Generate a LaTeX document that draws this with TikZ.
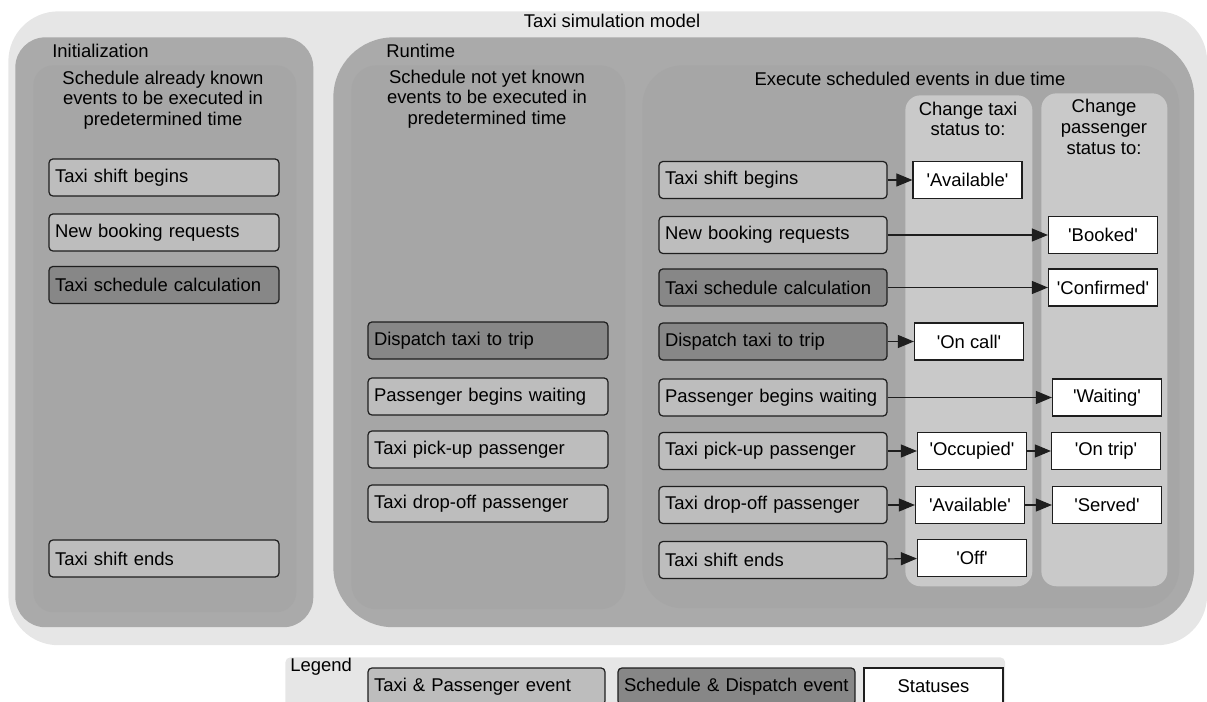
\documentclass[tikz,border=0pt]{standalone}
\usepackage{fontspec}
\setmainfont{Liberation Sans}
\usepackage{xcolor}
\usetikzlibrary{arrows.meta}
\definecolor{simbg}{HTML}{E6E6E6}
\definecolor{phasegray}{HTML}{AAAAAA}
\definecolor{innergray}{HTML}{A6A6A6}
\definecolor{colgray}{HTML}{C9C9C9}
\definecolor{evlight}{HTML}{BDBDBD}
\definecolor{evdark}{HTML}{878787}
\definecolor{edgegray}{HTML}{1E1E1E}
\newcommand{\diafont}{\fontsize{10.5pt}{11.8pt}\selectfont}
\newcommand{\sq}[1]{\textquotesingle#1\textquotesingle}

\begin{document}
\begin{tikzpicture}[
    x=0.02cm, y=-0.02cm,
    font=\diafont,
    area/.style={rectangle, anchor=north west, inner sep=0pt},
    title/.style={inner sep=0pt, align=center},
    evt/.style={
        rectangle, draw=edgegray, line width=0.7pt, rounded corners=2.2pt,
        fill=evlight, minimum height=0.74cm, inner xsep=0.12cm, inner ysep=0pt,
        align=left, text width=4.32cm
    },
    evd/.style={evt, fill=evdark},
    stat/.style={
        rectangle, draw=edgegray, line width=0.7pt, fill=white,
        minimum width=2.18cm, minimum height=0.74cm, inner sep=0pt
    },
    arrow/.style={-{Triangle[length=0.32cm, width=0.26cm]}, line width=0.6pt, edgegray}
]
\clip (0,0) rectangle (1207,702);

% containers
\node[area, fill=simbg, rounded corners=1cm, minimum width=23.98cm, minimum height=12.68cm] (model) at (8,11) {};
\node[area, fill=phasegray, rounded corners=0.6cm, minimum width=5.96cm, minimum height=11.8cm] (init) at (15,37) {};
\node[area, fill=phasegray, rounded corners=1.2cm, minimum width=17.22cm, minimum height=11.8cm] (run) at (333,37) {};
\node[area, fill=innergray, rounded corners=0.4cm, minimum width=5.26cm, minimum height=10.94cm] (initin) at (33,65) {};
\node[area, fill=innergray, rounded corners=0.5cm, minimum width=5.48cm, minimum height=10.88cm] (runin) at (351,65) {};
\node[area, fill=innergray, rounded corners=0.8cm, minimum width=10.74cm, minimum height=10.86cm] (exec) at (642,65) {};
\node[area, fill=colgray, rounded corners=0.3cm, minimum width=2.54cm, minimum height=9.82cm] (taxicol) at (905,95) {};
\node[area, fill=colgray, rounded corners=0.3cm, minimum width=2.52cm, minimum height=9.86cm] (passcol) at (1041,93) {};
\node[area, fill=simbg, rounded corners=0.1cm, minimum width=14.4cm, minimum height=1.2cm] (legend) at (285,657) {};

% headings
\node[title] (tmodel) at (612,21) {Taxi simulation model};
\node[title, anchor=west] (tinit) at (52,51) {Initialization};
\node[title, anchor=west] (trun) at (386,51) {Runtime};
\node[title] (tinitin) at (163,100) {Schedule already known\\events to be executed in\\predetermined time};
\node[title] (trunin) at (487,99) {Schedule not yet known\\events to be executed in\\predetermined time};
\node[title] (texec) at (910,79) {Execute scheduled events in due time};
\node[title] (ttaxi) at (968,119) {Change taxi\\status to:};
\node[title] (tpass) at (1104,127) {Change\\passenger\\status to:};

% initialization
\node[evt, text width=4.36cm] (i1) at (164,177.5) {Taxi shift begins};
\node[evt, text width=4.36cm] (i2) at (164,232.5) {New booking requests};
\node[evd, text width=4.36cm] (i3) at (164,285) {Taxi schedule calculation};
\node[evt, text width=4.36cm] (i4) at (164,558.5) {Taxi shift ends};

% runtime scheduling
\node[evd, text width=4.56cm] (r1) at (488,340.5) {Dispatch taxi to trip};
\node[evt, text width=4.56cm] (r2) at (488,396.5) {Passenger begins waiting};
\node[evt, text width=4.56cm] (r3) at (488,449.5) {Taxi pick-up passenger};
\node[evt, text width=4.56cm] (r4) at (488,503.5) {Taxi drop-off passenger};

% execution
\node[evt] (x1) at (773,180) {Taxi shift begins};
\node[evt] (x2) at (773,235) {New booking requests};
\node[evd] (x3) at (773,287.5) {Taxi schedule calculation};
\node[evd] (x4) at (773,341.5) {Dispatch taxi to trip};
\node[evt] (x5) at (773,397.5) {Passenger begins waiting};
\node[evt] (x6) at (773,451) {Taxi pick-up passenger};
\node[evt] (x7) at (773,505) {Taxi drop-off passenger};
\node[evt] (x8) at (773,560) {Taxi shift ends};

% statuses
\node[stat] (avail)    at (967.5,180) {\sq{Available}};
\node[stat] (booked)   at (1103,235) {\sq{Booked}};
\node[stat] (confirm)  at (1103,287.5) {\sq{Confirmed}};
\node[stat] (oncall)   at (969,341.5) {\sq{On call}};
\node[stat] (waiting)  at (1107,397.5) {\sq{Waiting}};
\node[stat] (occupied) at (972,451) {\sq{Occupied}};
\node[stat] (ontrip)   at (1106,451) {\sq{On trip}};
\node[stat] (availb)   at (970,505) {\sq{Available}};
\node[stat] (served)   at (1107,505) {\sq{Served}};
\node[stat] (off)      at (972,558) {\sq{Off}};

\draw[arrow] (x1) -- (avail);
\draw[arrow] (x2) -- (booked);
\draw[arrow] (x3) -- (confirm);
\draw[arrow] (x4) -- (oncall);
\draw[arrow] (x5) -- (waiting);
\draw[arrow] (x6) -- (occupied);
\draw[arrow] (occupied) -- (ontrip);
\draw[arrow] (x7) -- (availb);
\draw[arrow] (availb) -- (served);
\draw[arrow] (x8) -- (off);

% legend
\node[title, anchor=west] (tlegend) at (290,667) {Legend};
\node[evt, text width=4.5cm] (lg1) at (486.5,686.5) {Taxi \& Passenger event};
\node[evd, text width=4.5cm] (lg2) at (736.5,686.5) {Schedule \& Dispatch event};
\node[stat, minimum width=2.78cm] (lg3) at (933.5,686.5) {Statuses};
\end{tikzpicture}
\end{document}
